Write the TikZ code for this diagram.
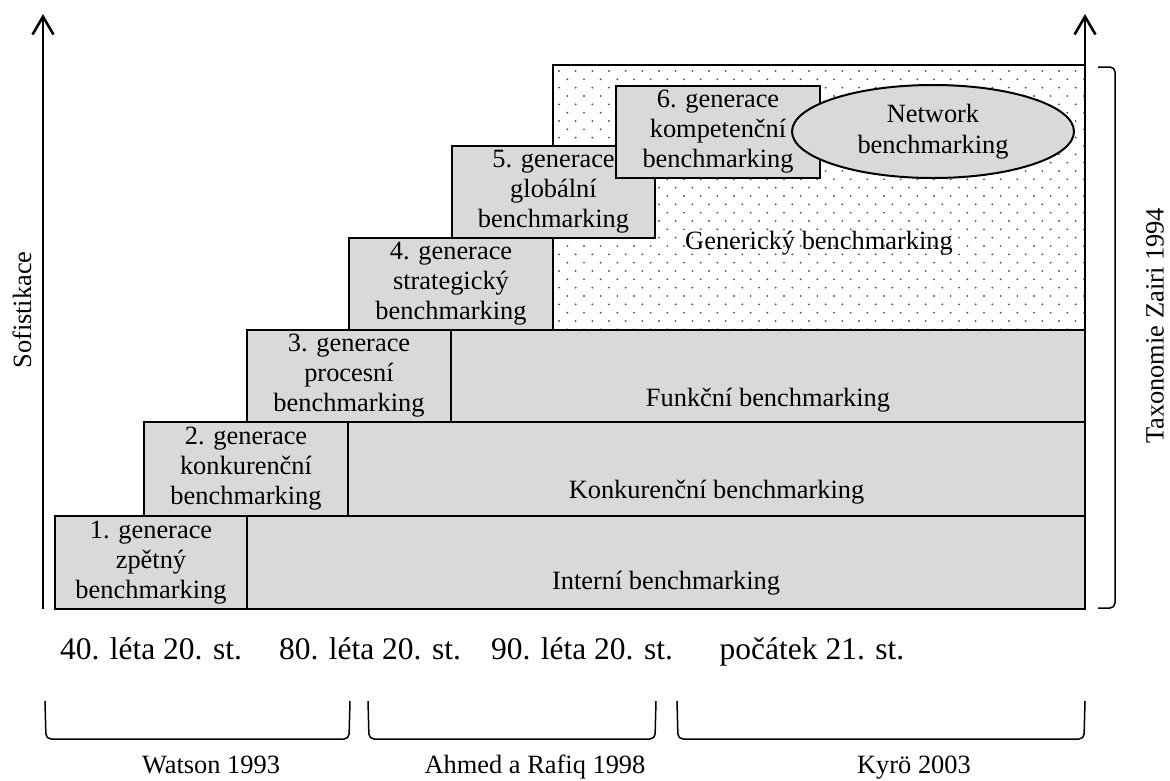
\documentclass[tikz,border=0pt]{standalone}
\usepackage{fontspec}
\setmainfont{Liberation Serif}
\usetikzlibrary{arrows.meta,shapes.geometric}
\definecolor{boxgray}{HTML}{D9D9D9}
\definecolor{dotgray}{HTML}{555555}
\begin{document}
\begin{tikzpicture}[x=1pt,y=-1pt,
  txt/.style={font=\fontsize{26.4}{30}\selectfont, align=center, inner sep=0pt},
  era/.style={font=\fontsize{31.5}{36}\selectfont, inner sep=0pt, anchor=base},
  author/.style={font=\fontsize{26.4}{30}\selectfont, inner sep=0pt, anchor=base},
  genbox/.style={draw, line width=2pt, fill=boxgray, inner sep=0pt, align=center,
    font=\fontsize{26.4}{30}\selectfont},
  rowbox/.style={draw, line width=2pt, fill=boxgray, inner sep=0pt},
  axis/.style={line width=2.6pt, -{Straight Barb[length=18pt,width=21pt]}},
  bracket/.style={line width=1.5pt, rounded corners=5pt}]
\useasboundingbox (0,0) rectangle (1170,780);

% dotted area behind the upper steps
\node[draw, line width=2pt, fill=white, inner sep=0pt, minimum width=532pt, minimum height=265pt]
  (gen) at (819,197.5) {};
\begin{scope}
  \clip (554,66) rectangle (1084,329);
  \foreach \r in {0,...,32} {
    \foreach \c in {0,...,32} {
      \fill[dotgray] ({559+\c*16.667+mod(\r,2)*8.333},{71+\r*8.333}) circle (1.05pt);
    }
  }
\end{scope}
\node[txt] (gentext) at (819,243) {Generický benchmarking};

% wide benchmarking rows
\node[rowbox, minimum width=838pt, minimum height=93pt] (r1) at (666,562.5) {};
\node[txt] (r1t) at (666,583) {Interní benchmarking};
\node[rowbox, minimum width=737pt, minimum height=94pt] (r2) at (716.5,469) {};
\node[txt] (r2t) at (716.5,492) {Konkurenční benchmarking};
\node[rowbox, minimum width=634pt, minimum height=92pt] (r3) at (768,376) {};
\node[txt] (r3t) at (768,400) {Funkční benchmarking};

% generation steps
\node[genbox, minimum width=192pt, minimum height=93pt] (g1) at (151,562.5)
  {1. generace\\zpětný\\benchmarking};
\node[genbox, minimum width=204pt, minimum height=94pt] (g2) at (246,469)
  {2. generace\\konkurenční\\benchmarking};
\node[genbox, minimum width=204pt, minimum height=92pt] (g3) at (349,376)
  {3. generace\\procesní\\benchmarking};
\node[genbox, minimum width=204pt, minimum height=92pt] (g4) at (451,284)
  {4. generace\\strategický\\benchmarking};
\node[genbox, minimum width=203pt, minimum height=92pt] (g5) at (553.5,192)
  {5. generace\\globální\\benchmarking};
\node[genbox, minimum width=204pt, minimum height=92pt] (g6) at (718,132)
  {6. generace\\kompetenční\\benchmarking};
\node[ellipse, draw, line width=2pt, fill=boxgray, inner sep=0pt, align=center,
  minimum width=282pt, minimum height=93pt, font=\fontsize{26.4}{31}\selectfont]
  (net) at (933,131.5) {Network\\benchmarking};

% axes
\coordinate (lb) at (43,609);
\coordinate (lt) at (43,14);
\coordinate (rb) at (1085,609);
\coordinate (rt) at (1085,14);
\draw[axis] (lb) -- (lt);
\draw[axis] (rb) -- (rt);
\node[txt, rotate=90] (soph) at (22,310) {Sofistikace};

% taxonomy bracket on the right
\draw[bracket] (1098,67) -- (1115,67) -- (1115,608) -- (1098,608);
\node[txt, rotate=90] (zairi) at (1155,326) {Taxonomie Zairi 1994};

% time line
\node[era] (e40) at (151,659) {40. léta 20. st.};
\node[era] (e80) at (370,659) {80. léta 20. st.};
\node[era] (e90) at (582,659) {90. léta 20. st.};
\node[era] (e21) at (812,659) {počátek 21. st.};

% author brackets
\draw[bracket] (45,701) -- (46,739) -- (349,739) -- (350,701);
\draw[bracket] (368,701) -- (369,739) -- (655,739) -- (656,701);
\draw[bracket] (677,701) -- (678,739) -- (1084,739) -- (1085,701);
\node[author] (watson) at (211,773) {Watson 1993};
\node[author] (ahmed) at (535,773) {Ahmed a Rafiq 1998};
\node[author] (kyro) at (914,773) {Kyrö 2003};
\end{tikzpicture}
\end{document}
